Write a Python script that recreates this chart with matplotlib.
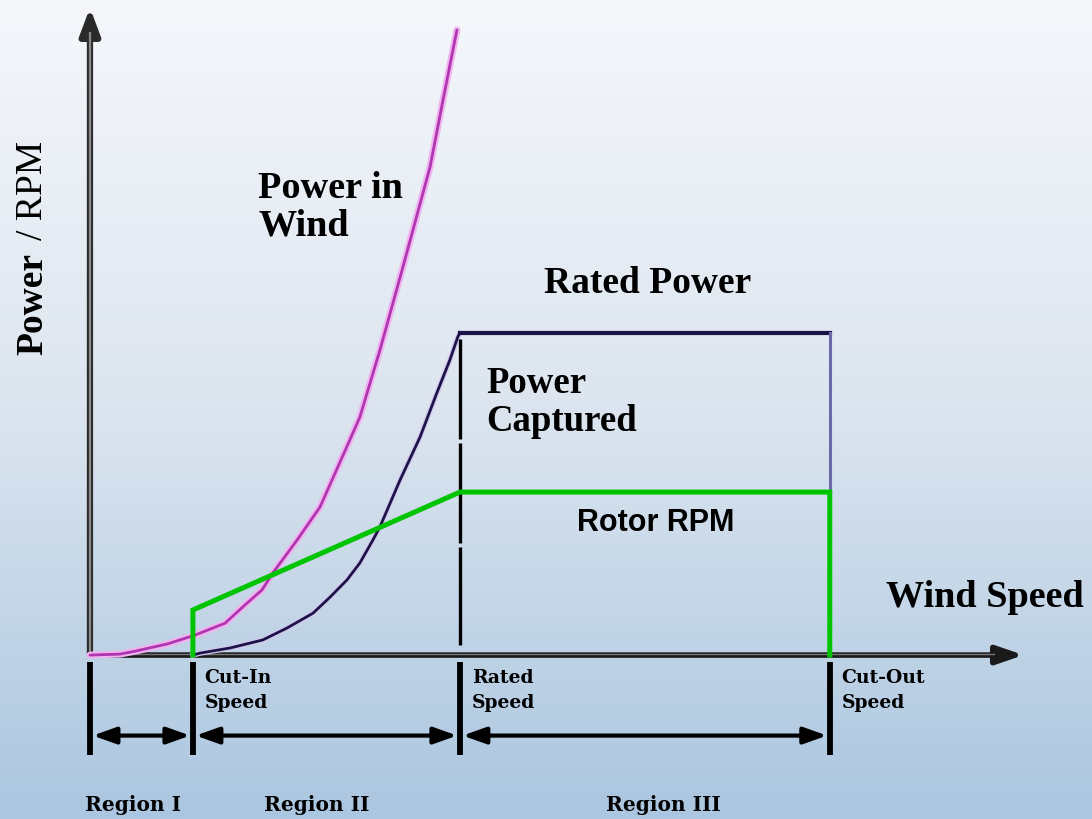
import numpy as np
import matplotlib.pyplot as plt
from matplotlib.colors import LinearSegmentedColormap

# wind speeds (m/s) that split the regions
cut_in = 3.49
rated_speed = 12.54
cut_out = 25.08
rated_power = 1.0
rpm_start = 0.14
rpm_level = 0.506

# power in wind (fraction of rated power)
wind_v = [0, 1.02, 1.53, 2.64, 3.56, 4.58, 5.32, 5.83, 6.20, 7.02, 7.80, 8.81, 9.15, 9.83,
          10.61, 11.53, 11.97, 12.44]
wind_p = [0, 0.003, 0.012, 0.035, 0.062, 0.099, 0.161, 0.202, 0.255, 0.357, 0.460, 0.668,
          0.739, 0.947, 1.205, 1.516, 1.724, 1.941]

# power captured by the turbine
capt_v = [3.49, 3.73, 4.75, 5.86, 6.68, 7.56, 8.14, 8.71, 9.15, 9.59, 9.83, 10.51, 11.19,
          11.76, 12.20, 12.47, 12.54]
capt_p = [0, 0.006, 0.022, 0.047, 0.084, 0.130, 0.180, 0.233, 0.286, 0.357, 0.398, 0.543,
          0.677, 0.814, 0.916, 0.988, 1.0]

# rotor rpm (same scale)
rpm_v = [cut_in, cut_in, rated_speed, cut_out, cut_out]
rpm_p = [0, rpm_start, rpm_level, rpm_level, 0]

region_names = ["Region I", "Region II", "Region III"]
edges = [0, cut_in, rated_speed, cut_out]
edge_labels = ["Cut-In\nSpeed", "Rated\nSpeed", "Cut-Out\nSpeed"]

x_min, x_max = -3.05, 33.97
y_min, y_max = -0.509, 2.034
axis_end_x = 31.65
axis_end_y = 2.01

fig = plt.figure(figsize=(10.92, 8.19), dpi=100)
ax = fig.add_axes([0, 0, 1, 1])
ax.set_xlim(x_min, x_max)
ax.set_ylim(y_min, y_max)
ax.axis('off')

# background gradient
cmap = LinearSegmentedColormap.from_list('bg', ['#f5f7fb', '#dce5ef', '#abc6e0'])
grad = np.linspace(0, 1, 256).reshape(-1, 1)
ax.imshow(grad, extent=(x_min, x_max, y_min, y_max), aspect='auto',
          cmap=cmap, origin='upper', zorder=0)

serif = 'Liberation Serif'
slab = 'DejaVu Serif'

# axes with arrow heads
ax.annotate('', xy=(axis_end_x, 0), xytext=(0, 0),
            arrowprops=dict(arrowstyle='-|>,head_length=1.6,head_width=0.55',
                            lw=4, color='#1a1a1a', shrinkA=0, shrinkB=0), zorder=3)
ax.plot([0, axis_end_x - 1], [0.004, 0.004], color='#777777', lw=1, zorder=3)
ax.annotate('', xy=(0, axis_end_y), xytext=(0, 0),
            arrowprops=dict(arrowstyle='-|>,head_length=1.6,head_width=0.6',
                            lw=4.5, color='#2a2a2a', shrinkA=0, shrinkB=0), zorder=3)
ax.plot([0, 0], [0, axis_end_y - 0.08], color='#8a8a8a', lw=1.6, zorder=3)

# curves
ax.plot(wind_v, wind_p, color='#f0b4f0', lw=5, solid_capstyle='round', zorder=4)
ax.plot(wind_v, wind_p, color='#b035b0', lw=2, solid_capstyle='round', zorder=4)
ax.plot(capt_v, capt_p, color='#d4c8ee', lw=3.8, zorder=4)
ax.plot(capt_v, capt_p, color='#1c1448', lw=2, zorder=4)
ax.plot([rated_speed, cut_out], [rated_power, rated_power], color='#1c1448', lw=3, zorder=4)
ax.plot([cut_out, cut_out], [rated_power, rpm_level], color='#6a6aa8', lw=2.2, zorder=4)
ax.plot([rated_speed, rated_speed], [rated_power - 0.02, 0.03], color='black', lw=2.4,
        dashes=(30, 1.2), zorder=4)
ax.plot(rpm_v, rpm_p, color='#00c400', lw=3.6, solid_joinstyle='miter', zorder=5)

# region markers below the axis
bar_top, bar_bot, arrow_y = -0.022, -0.31, -0.25
for e in edges:
    ax.plot([e, e], [bar_top, bar_bot], color='black', lw=4.2, solid_capstyle='butt', zorder=3)
for a, b in zip(edges[:-1], edges[1:]):
    ax.annotate('', xy=(b, arrow_y), xytext=(a, arrow_y),
                arrowprops=dict(arrowstyle='<|-|>,head_length=1.4,head_width=0.5',
                                lw=3, color='black', shrinkA=2, shrinkB=2), zorder=3)
region_label_v = [1.45, 7.7, 19.45]
for v, name in zip(region_label_v, region_names):
    ax.text(v, -0.466, name, ha='center', va='center', fontsize=14.5,
            fontweight='bold', family=slab)
for e, lab in zip(edges[1:], edge_labels):
    ax.text(e + 0.4, -0.11, lab, ha='left', va='center', fontsize=13.5,
            fontweight='bold', family=slab, linespacing=1.45)

# annotations
ax.text(5.7, 1.39, "Power in\nWind", ha='left', va='center', fontsize=27.5,
        family=serif, fontweight='bold', linespacing=1.1)
ax.text(18.9, 1.153, "Rated Power", ha='center', va='center', fontsize=27,
        family=serif, fontweight='bold')
ax.text(13.45, 0.785, "Power\nCaptured", ha='left', va='center', fontsize=26.5,
        family=serif, fontweight='bold', linespacing=1.1)
ax.text(33.7, 0.18, "Wind Speed", ha='right', va='center', fontsize=27.5,
        family=serif, fontweight='bold')
ax.text(19.19, 0.41, "Rotor RPM", ha='center', va='center', fontsize=22,
        family='Liberation Sans', fontweight='bold')
ax.text(-1.95, 1.09, "Power", rotation=90, ha='center', va='center', fontsize=27,
        family=serif, fontweight='bold')
ax.text(-1.95, 1.444, "/ RPM", rotation=90, ha='center', va='center', fontsize=27,
        family=serif)

fig.savefig('out.png', dpi=100)
